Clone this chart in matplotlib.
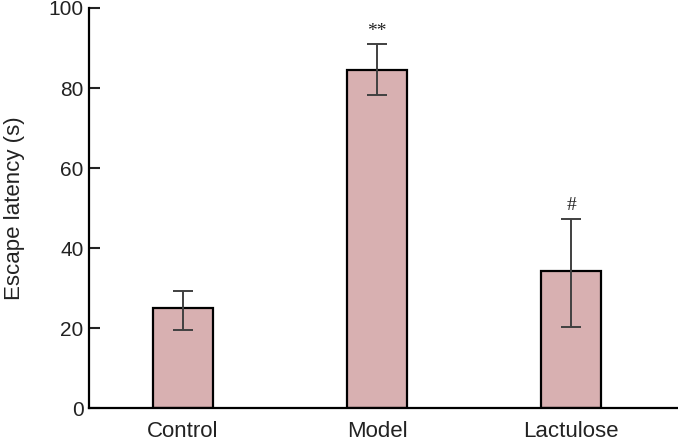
import matplotlib
matplotlib.use("Agg")
import matplotlib.pyplot as plt
import numpy as np

categories = ["Control", "Model", "Lactulose"]
means = [24.9, 84.5, 34.3]
err_low = [5.3, 6.2, 14.0]
err_high = [4.4, 6.4, 13.0]
marks = ["", "**", "#"]
yticks = [0, 20, 40, 60, 80, 100]

plt.rcParams['font.family'] = ['Liberation Sans', 'DejaVu Sans']

fig = plt.figure(figsize=(6.78, 4.44), dpi=100)
ax = fig.add_axes([89/678, 36/444, 1 - 89/678, 400/444])

x = np.arange(len(categories))
ax.bar(x, means, width=0.31, color="#d8b0b1", edgecolor="black", linewidth=1.6, zorder=2)
ax.errorbar(x, means, yerr=[err_low, err_high], fmt="none", ecolor="#404040",
            elinewidth=1.4, capsize=7, capthick=1.4, zorder=3)
for xi, m, eh, mk in zip(x, means, err_high, marks):
    if mk:
        ax.text(xi, m + eh + 1.2, mk, ha="center", va="bottom", fontsize=14,
                family=["Liberation Serif", "DejaVu Serif"], color="#222222")

ax.set_xlim(-0.485, 2.55)
ax.set_ylim(0, 100)
ax.set_xticks(x)
ax.set_xticklabels(categories, fontsize=16)
ax.set_yticks(yticks)
ax.set_yticklabels([str(t) for t in yticks], fontsize=15)
ax.tick_params(axis="x", length=0, pad=9, colors="#222222")
ax.tick_params(axis="y", direction="in", length=8, width=1.5, pad=4, colors="#222222")
ax.set_ylabel("Escape latency (s)", fontsize=16, color="#222222", labelpad=17)
for s in ["top", "right"]:
    ax.spines[s].set_visible(False)
for s in ["left", "bottom"]:
    ax.spines[s].set_linewidth(1.6)
    ax.spines[s].set_color("black")

fig.savefig("out.png", dpi=100)
